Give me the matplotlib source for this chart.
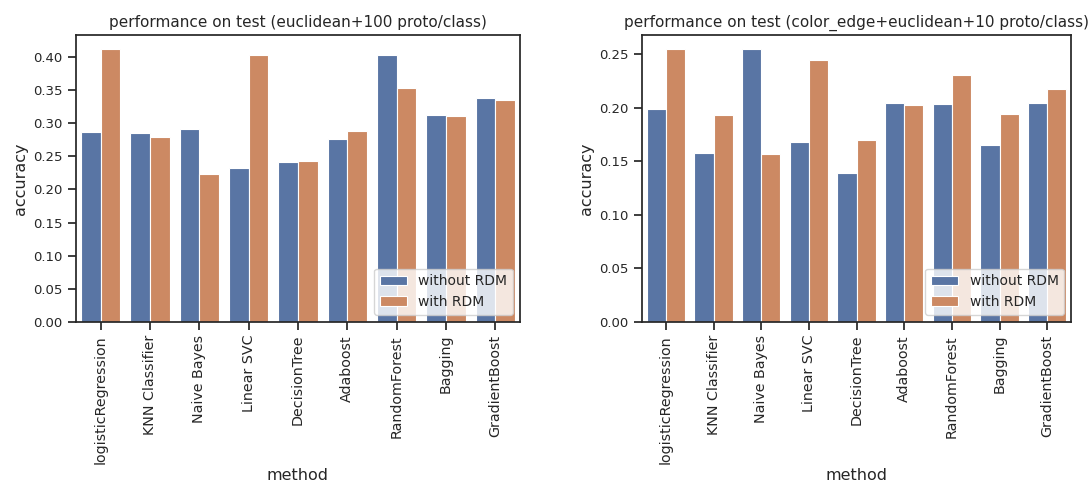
import matplotlib
matplotlib.use("Agg")
import matplotlib.pyplot as plt
import seaborn as sns
import pandas as pd

methods = ["logisticRegression", "KNN Classifier", "Naive Bayes", "Linear SVC",
           "DecisionTree", "Adaboost", "RandomForest", "Bagging", "GradientBoost"]

euc100_without = [0.287, 0.285, 0.291, 0.233, 0.241, 0.277, 0.403, 0.313, 0.339]
euc100_with = [0.413, 0.279, 0.223, 0.403, 0.243, 0.288, 0.353, 0.311, 0.335]

ce10_without = [0.199, 0.158, 0.255, 0.168, 0.139, 0.204, 0.203, 0.165, 0.204]
ce10_with = [0.255, 0.193, 0.157, 0.244, 0.170, 0.202, 0.230, 0.194, 0.217]

titles = ["performance on test (euclidean+100 proto/class)",
          "performance on test (color_edge+euclidean+10 proto/class)"]


def frame(without, with_):
    rows = []
    for m, a, b in zip(methods, without, with_):
        rows.append({"method": m, "accuracy": a, "setting": "without RDM"})
        rows.append({"method": m, "accuracy": b, "setting": "with RDM"})
    return pd.DataFrame(rows)


sns.set_theme(style="ticks")
plt.rcParams["font.family"] = ["DejaVu Sans"]

W, H = 1090, 484
fig = plt.figure(figsize=(W / 100, H / 100), dpi=100)
boxes = [(76, 520), (642, 1071)]
top_px, bottom_px = 35, 321.7

for (x0, x1), title, (w, r) in zip(boxes, titles,
                                   [(euc100_without, euc100_with), (ce10_without, ce10_with)]):
    ax = fig.add_axes([x0 / W, 1 - bottom_px / H, (x1 - x0) / W, (bottom_px - top_px) / H])
    sns.barplot(data=frame(w, r), x="method", y="accuracy", hue="setting",
                ax=ax, palette="deep", edgecolor="white", linewidth=0.8)
    ax.set_title(title, fontsize=11)
    ax.set_xlabel("method", fontsize=11.5, labelpad=3.5)
    ax.set_ylabel("accuracy", fontsize=11.5)
    ax.tick_params(axis="x", labelrotation=90, labelsize=10.3)
    ax.tick_params(axis="y", labelsize=9.5)
    ax.legend(loc="lower right", fontsize=10, title=None)

fig.savefig("out.png")
